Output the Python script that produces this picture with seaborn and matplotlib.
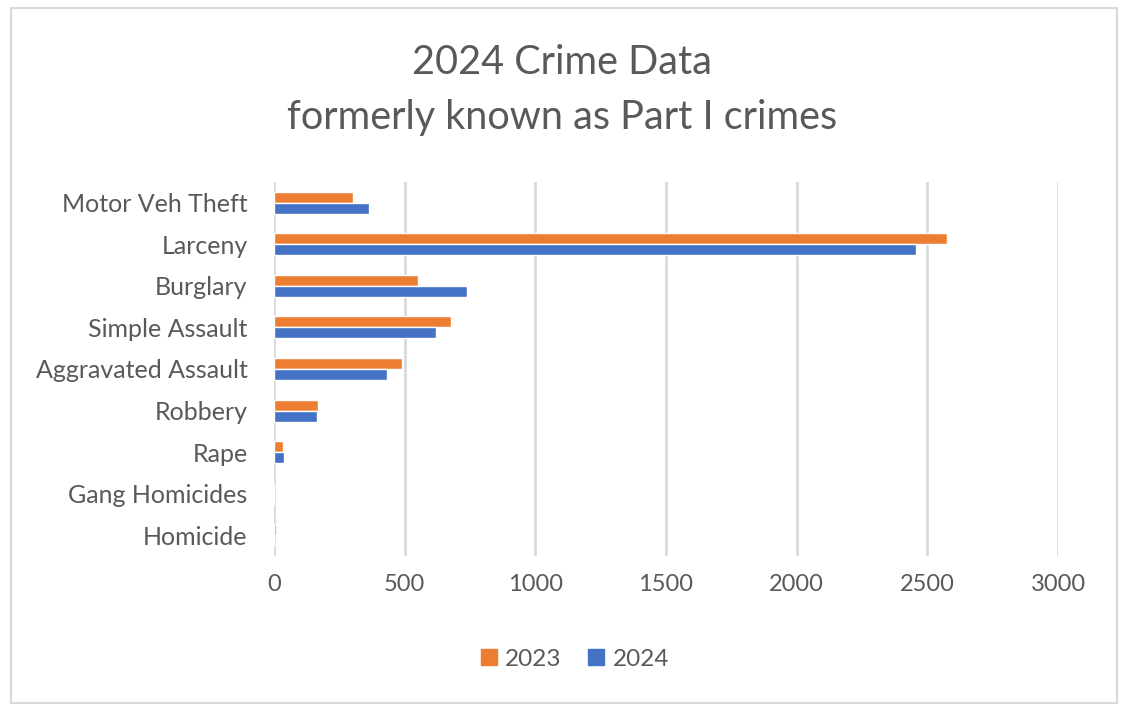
import matplotlib
matplotlib.use("Agg")
import matplotlib.pyplot as plt
import seaborn as sns
import pandas as pd
from matplotlib.patches import Rectangle, Patch

categories = ["Motor Veh Theft", "Larceny", "Burglary", "Simple Assault",
              "Aggravated Assault", "Robbery", "Rape", "Gang Homicides", "Homicide"]
values_2023 = [304, 2577, 552, 676, 490, 169, 33, 0, 8]
values_2024 = [365, 2458, 738, 620, 434, 164, 39, 0, 1]
years = ["2023", "2024"]
xticks = [0, 500, 1000, 1500, 2000, 2500, 3000]

df = pd.DataFrame({
    "Category": categories * 2,
    "Year": [years[0]] * len(categories) + [years[1]] * len(categories),
    "Value": values_2023 + values_2024,
})

sns.set_theme(style="white")
plt.rcParams["font.family"] = ["Lato", "DejaVu Sans"]
txt = "#595959"
colors = {"2023": "#ED7D31", "2024": "#4472C4"}

fig = plt.figure(figsize=(11.24, 7.04), dpi=100)
ax = fig.add_axes([274 / 1124, 1 - 556 / 704, (1058 - 274) / 1124, (556 - 182) / 704])

sns.barplot(data=df, y="Category", x="Value", hue="Year", hue_order=years,
            order=categories, palette=colors, orient="h", width=0.53,
            ax=ax, legend=False, saturation=1)

ax.set_xlim(0, 3000)
ax.set_xticks(xticks)
ax.set_xticklabels([str(t) for t in xticks], color=txt, fontsize=17)
ax.set_yticklabels(categories, color=txt, fontsize=18)
ax.set_xlabel("")
ax.set_ylabel("")
ax.grid(axis="x", color="#D9D9D9", linewidth=2)
ax.set_axisbelow(True)
for s in ax.spines.values():
    s.set_visible(False)
ax.tick_params(axis="both", length=0)
ax.tick_params(axis="x", pad=13)
ax.tick_params(axis="y", pad=19)

fig.text(0.5, 1 - 62 / 704, "2024 Crime Data", ha="center", va="center",
         fontsize=28.5, color=txt)
fig.text(0.5, 1 - 117 / 704, "formerly known as Part I crimes", ha="center",
         va="center", fontsize=28.5, color=txt)

handles = [Patch(color=colors[y], label=y) for y in years]
fig.legend(handles=handles, loc="center", bbox_to_anchor=(575 / 1124, 1 - 659 / 704),
           ncol=2, frameon=False, fontsize=17.5, labelcolor=txt,
           handlelength=0.65, handleheight=0.65, handletextpad=0.35, columnspacing=1.1)

fig.patches.append(Rectangle((11 / 1124, 0.002), (1117 - 11) / 1124, 1 - 8 / 704 - 0.002,
                             transform=fig.transFigure, fill=False,
                             edgecolor="#D9D9D9", linewidth=1.5))

fig.savefig("out.png", dpi=100, facecolor="white")
